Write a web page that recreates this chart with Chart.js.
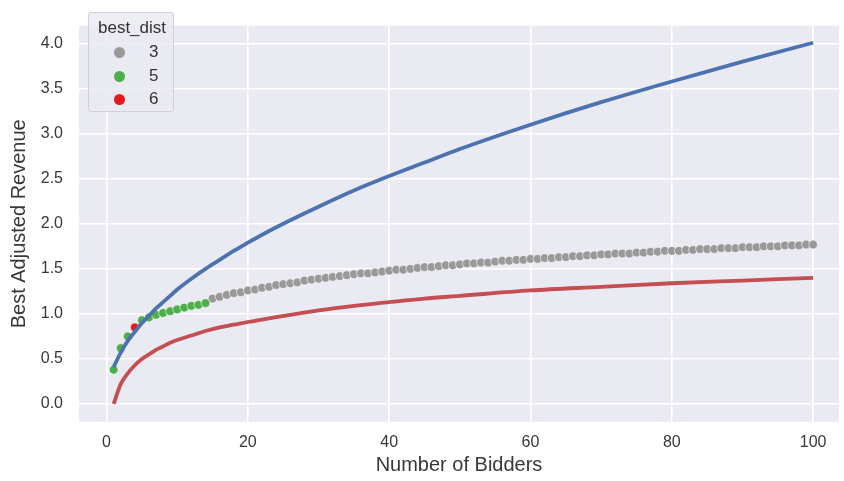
<!DOCTYPE html>
<html>
<head>
<meta charset="utf-8">
<script src="https://cdn.jsdelivr.net/npm/chart.js@4.4.1/dist/chart.umd.min.js"></script>
<style>
  html, body { margin: 0; padding: 0; background: #fff; overflow: hidden; }
  #wrap { position: relative; width: 844px; height: 481px; }
  #legend {
    position: absolute; left: 88px; top: 12px; width: 84px; height: 98px;
    border: 1px solid #d0d0d6; border-radius: 3px;
    background: rgba(234, 234, 242, 0.85);
    font-family: "Liberation Sans", Arial, sans-serif; color: #333;
  }
  #legend .title { position: absolute; top: 5px; left: 0; width: 86px; text-align: center; font-size: 17px; }
  #legend .row { position: absolute; left: 0; width: 86px; height: 22px; font-size: 17px; }
  #legend .dot { position: absolute; left: 25px; top: 6px; width: 11px; height: 11px; border-radius: 50%; }
  #legend .lab { position: absolute; left: 60px; top: 1px; }
</style>
</head>
<body>
<div id="wrap">
  <canvas id="revChart" width="844" height="481"></canvas>
  <div id="legend"></div>
</div>
<script>
// curves (read at a number of bidder counts)
var lineX = [1, 2, 3, 4, 5, 6, 7, 8, 9, 10, 12, 14, 16, 18, 20, 23, 26, 30, 35, 40, 45, 50, 60, 70, 80, 90, 100];
var blueY = [0.41, 0.57, 0.70, 0.80, 0.90, 0.98, 1.06, 1.13, 1.20, 1.27, 1.39, 1.50, 1.60, 1.70, 1.79,
             1.92, 2.04, 2.19, 2.37, 2.53, 2.68, 2.83, 3.10, 3.35, 3.58, 3.80, 4.01];
var redY  = [0.00, 0.22, 0.34, 0.43, 0.50, 0.55, 0.60, 0.64, 0.68, 0.71, 0.76, 0.81, 0.85, 0.88, 0.91,
             0.95, 0.99, 1.04, 1.09, 1.13, 1.17, 1.20, 1.26, 1.30, 1.34, 1.37, 1.40];

// best_dist scatter points
var greenX = [1, 2, 3, 5, 6, 7, 8, 9, 10, 11, 12, 13, 14];
var greenY = [0.38, 0.62, 0.75, 0.93, 0.96, 0.99, 1.01, 1.03, 1.05, 1.07, 1.09, 1.10, 1.12];
var redDotX = [4];
var redDotY = [0.85];
var grayStart = 15;
var grayY = [
  1.17, 1.19, 1.21, 1.23, 1.24, 1.26, 1.27, 1.29, 1.30, 1.32,
  1.33, 1.34, 1.35, 1.37, 1.38, 1.39, 1.40, 1.41, 1.42, 1.43,
  1.44, 1.45, 1.45, 1.46, 1.47, 1.48, 1.49, 1.49, 1.50, 1.51,
  1.52, 1.52, 1.53, 1.54, 1.54, 1.55, 1.56, 1.56, 1.57, 1.57,
  1.58, 1.59, 1.59, 1.60, 1.60, 1.61, 1.61, 1.62, 1.62, 1.63,
  1.63, 1.64, 1.64, 1.65, 1.65, 1.66, 1.66, 1.67, 1.67, 1.67,
  1.68, 1.68, 1.69, 1.69, 1.70, 1.70, 1.70, 1.71, 1.71, 1.72,
  1.72, 1.72, 1.73, 1.73, 1.73, 1.74, 1.74, 1.74, 1.75, 1.75,
  1.75, 1.76, 1.76, 1.76, 1.77, 1.77
];

var legendLabels = ['3', '5', '6'];
var legendColors = ['#999999', '#4DAF4A', '#E41A1C'];

function pts(xs, ys) {
  return ys.map(function (y, i) { return { x: xs[i], y: y }; });
}
var grayX = grayY.map(function (_, i) { return grayStart + i; });

var bgPlugin = {
  id: 'plotBg',
  beforeDraw: function (chart) {
    var a = chart.chartArea, ctx = chart.ctx;
    ctx.save();
    ctx.fillStyle = '#EAEAF2';
    ctx.fillRect(a.left, a.top, a.right - a.left, a.bottom - a.top);
    ctx.restore();
  }
};

var font = "'Liberation Sans', Arial, sans-serif";

var canvas = document.getElementById('revChart');
var revChart = new Chart(canvas, {
  type: 'scatter',
  data: {
    datasets: [
      { type: 'line', data: pts(lineX, blueY), borderColor: '#4C72B0', borderWidth: 3.8,
        pointRadius: 0, cubicInterpolationMode: 'monotone', fill: false },
      { type: 'line', data: pts(lineX, redY), borderColor: '#C44E52', borderWidth: 3.8,
        pointRadius: 0, cubicInterpolationMode: 'monotone', fill: false },
      { data: pts(redDotX, redDotY), backgroundColor: legendColors[2], borderColor: '#fff',
        borderWidth: 0.6, pointRadius: 4.4 },
      { data: pts(greenX, greenY), backgroundColor: legendColors[1], borderColor: '#fff',
        borderWidth: 0.6, pointRadius: 4.4 },
      { data: pts(grayX, grayY), backgroundColor: legendColors[0], borderColor: '#fff',
        borderWidth: 0.6, pointRadius: 4.4 }
    ]
  },
  options: {
    responsive: false,
    animation: false,
    layout: { padding: { top: 3, right: 0, left: 0, bottom: 0 } },
    plugins: { legend: { display: false }, tooltip: { enabled: false } },
    scales: {
      x: {
        type: 'linear', min: -3.9, max: 103.66,
        afterFit: function (s) { s.height = 59; },
        grid: { color: '#ffffff', lineWidth: 1.6, drawTicks: false },
        border: { display: false },
        ticks: { stepSize: 20, includeBounds: false, padding: 11, color: '#383838',
                 font: { family: font, size: 16 } },
        title: { display: true, text: 'Number of Bidders', color: '#383838',
                 font: { family: font, size: 20 }, padding: { top: 2 } }
      },
      y: {
        min: -0.2, max: 4.2,
        afterFit: function (s) { s.width = 79; },
        grid: { color: '#ffffff', lineWidth: 1.6, drawTicks: false },
        border: { display: false },
        ticks: { stepSize: 0.5, includeBounds: false, padding: 16, color: '#383838',
                 font: { family: font, size: 16 },
                 callback: function (v) { return v.toFixed(1); } },
        title: { display: true, text: 'Best Adjusted Revenue', color: '#383838',
                 font: { family: font, size: 20 }, padding: { top: 7, bottom: 0 } }
      }
    }
  },
  plugins: [bgPlugin]
});

// legend drawn as html on top of the plot
var leg = document.getElementById('legend');
var html = '<div class="title">best_dist</div>';
legendLabels.forEach(function (lab, i) {
  html += '<div class="row" style="top:' + (28 + i * 23.5) + 'px">' +
          '<span class="dot" style="background:' + legendColors[i] + '"></span>' +
          '<span class="lab">' + lab + '</span></div>';
});
leg.innerHTML = html;
</script>
</body>
</html>
